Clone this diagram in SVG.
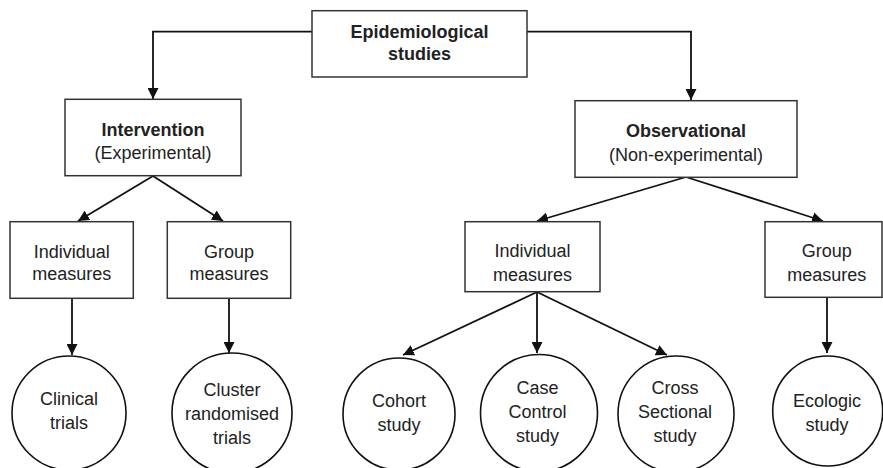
<svg xmlns="http://www.w3.org/2000/svg" width="883" height="468" viewBox="0 0 883 468">
<style>
.box{fill:#fff;stroke:#333;stroke-width:1.5}
.circ{fill:#fff;stroke:#111;stroke-width:1.6}
.t{font-family:"Liberation Sans",Arial,sans-serif;font-size:18px;fill:#222;text-anchor:middle}
.b{font-weight:bold}
.ln{fill:none;stroke:#111;stroke-width:1.8;marker-end:url(#ah)}
</style>
<defs>
<marker id="ah" markerUnits="userSpaceOnUse" markerWidth="11" markerHeight="11" viewBox="0 0 10 10" refX="10" refY="5" orient="auto">
<path d="M0,0 L10,5 L0,10 z" fill="#111"/>
</marker>
</defs>
<rect width="883" height="468" fill="#fff"/>
<g id="connectors">
<path class="ln" d="M312,31.7 H153 V99"/>
<path class="ln" d="M527,31.7 H691 V100"/>
<path class="ln" d="M153,176 L78,221"/>
<path class="ln" d="M153,176 L223,221"/>
<path class="ln" d="M686,177 L537,221"/>
<path class="ln" d="M686,177 L823,221"/>
<path class="ln" d="M72,298 V355"/>
<path class="ln" d="M229,298 V353"/>
<path class="ln" d="M537,292 L403,355"/>
<path class="ln" d="M537,292 V353"/>
<path class="ln" d="M537,292 L667,355"/>
<path class="ln" d="M827,297 V353"/>
</g>
<g id="epi">
<rect class="box" x="312" y="10.7" width="215" height="66.3"/>
<text class="t b" x="419.5" y="38">Epidemiological</text>
<text class="t b" x="419.5" y="60">studies</text>
</g>
<g id="intervention">
<rect class="box" x="65" y="99.3" width="176" height="76.4"/>
<text class="t b" x="153" y="136">Intervention</text>
<text class="t" x="153" y="159">(Experimental)</text>
</g>
<g id="observational">
<rect class="box" x="575" y="100.7" width="222" height="76.6"/>
<text class="t b" x="686" y="137">Observational</text>
<text class="t" x="686" y="161">(Non-experimental)</text>
</g>
<g id="ind-left">
<rect class="box" x="10" y="221.7" width="123.3" height="76.6"/>
<text class="t" x="71.7" y="258">Individual</text>
<text class="t" x="71.7" y="280">measures</text>
</g>
<g id="grp-left">
<rect class="box" x="167.3" y="221.7" width="123.4" height="76.6"/>
<text class="t" x="229" y="258">Group</text>
<text class="t" x="229" y="280">measures</text>
</g>
<g id="ind-right">
<rect class="box" x="465" y="221.7" width="135" height="70"/>
<text class="t" x="532.5" y="257">Individual</text>
<text class="t" x="532.5" y="281">measures</text>
</g>
<g id="grp-right">
<rect class="box" x="765" y="221.7" width="117" height="75.6"/>
<text class="t" x="826.7" y="257">Group</text>
<text class="t" x="826.7" y="281">measures</text>
</g>
<g id="clinical">
<circle class="circ" cx="69" cy="413" r="57"/>
<text class="t" x="69" y="405">Clinical</text>
<text class="t" x="69" y="429">trials</text>
</g>
<g id="cluster">
<circle class="circ" cx="232" cy="413" r="60"/>
<text class="t" x="232" y="396">Cluster</text>
<text class="t" x="232" y="420">randomised</text>
<text class="t" x="232" y="444">trials</text>
</g>
<g id="cohort">
<circle class="circ" cx="399" cy="414" r="56"/>
<text class="t" x="399" y="407">Cohort</text>
<text class="t" x="399" y="431">study</text>
</g>
<g id="casecontrol">
<circle class="circ" cx="539" cy="413" r="58.5"/>
<text class="t" x="537.5" y="394">Case</text>
<text class="t" x="537.5" y="418">Control</text>
<text class="t" x="537.5" y="442">study</text>
</g>
<g id="cross">
<circle class="circ" cx="676" cy="414" r="58"/>
<text class="t" x="675" y="394">Cross</text>
<text class="t" x="675" y="418">Sectional</text>
<text class="t" x="675" y="442">study</text>
</g>
<g id="ecologic">
<circle class="circ" cx="827.7" cy="411" r="55"/>
<text class="t" x="827" y="407">Ecologic</text>
<text class="t" x="827" y="431">study</text>
</g>
</svg>
